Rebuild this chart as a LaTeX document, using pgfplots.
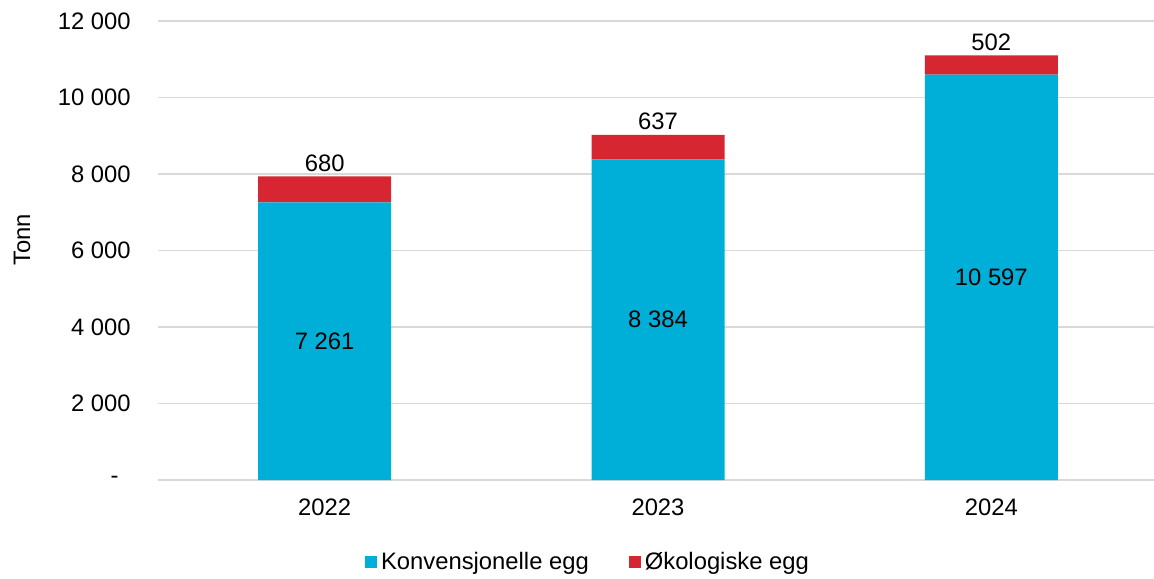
\documentclass[border=0pt]{standalone}
\usepackage{fontspec}
\setmainfont{Liberation Sans}
\usepackage{pgfplots}
\pgfplotsset{compat=1.18}

\definecolor{konv}{HTML}{00AFD8}
\definecolor{oko}{HTML}{D52631}
\definecolor{gridgray}{HTML}{D9D9D9}

% 1 px of the reference = 0.5pt
\begin{document}
\fontsize{11.9}{14.3}\selectfont
\begin{tikzpicture}
\path[use as bounding box] (-79pt,-49pt) rectangle (498pt,240pt);
\begin{axis}[
    at={(0,0)}, anchor=south west,
    scale only axis, width=500pt, height=229.5pt,
    ybar stacked, bar width=66.5pt,
    xmin=-0.5, xmax=2.5, ymin=0, ymax=12000,
    xtick=data, xticklabels={2022,2023,2024},
    ytick={0,2000,4000,6000,8000,10000,12000},
    yticklabels={{-\rule{6pt}{0pt}},{2 000},{4 000},{6 000},{8 000},{10 000},{12 000}},
    scaled y ticks=false,
    major tick length=0pt,
    axis line style={draw=none},
    ymajorgrids, major grid style={draw=gridgray, line width=0.75pt},
    yticklabel style={xshift=-9.5pt},
    xticklabel style={yshift=-5.5pt},
    ylabel={Tonn},
    ylabel style={at={(rel axis cs:-0.136,0.523)}, anchor=center},
    legend columns=2,
    legend style={at={(0.431,-0.179)}, anchor=center, draw=none, fill=none,
        /tikz/every even column/.append style={column sep=18pt}},
    legend image code/.code={\fill[#1] (0pt,-3pt) rectangle (6pt,3pt);},
]
\addplot[fill=konv, draw=none, nodes near coords, point meta=explicit symbolic,
    every node near coord/.append style={anchor=center, text=black}]
coordinates {(0,7261) [7 261] (1,8384) [8 384] (2,10597) [10 597]};
\addlegendentry{Konvensjonelle egg}
\addplot[fill=oko, draw=none, nodes near coords, point meta=explicit symbolic,
    visualization depends on={rawy \as \rawy},
    every node near coord/.append style={anchor=south, text=black,
        yshift={0.5*\rawy*0.019125pt-1.8pt}}]
coordinates {(0,680) [680] (1,637) [637] (2,502) [502]};
\addlegendentry{Økologiske egg}
\end{axis}
\end{tikzpicture}
\end{document}
